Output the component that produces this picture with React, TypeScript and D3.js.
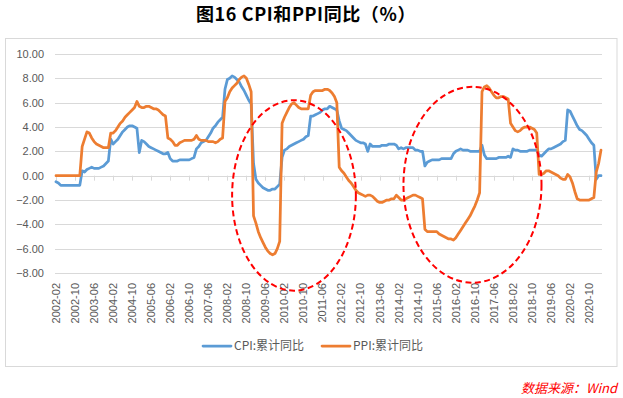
import React from 'react';
import * as d3 from 'd3';

// CPI 累计同比 (%), monthly from 2002-02 to 2021-03
const CPI: number[] = [
  // 2002-02 .. 2002-12
  -0.5, -0.6, -0.8, -0.8, -0.8, -0.8, -0.8, -0.8, -0.8, -0.8, -0.8,
  // 2003
  0.4, 0.3, 0.5, 0.6, 0.7, 0.6, 0.6, 0.6, 0.7, 0.8, 1.0, 1.2,
  // 2004
  3.0, 2.6, 2.8, 3.0, 3.3, 3.6, 3.8, 4.0, 4.1, 4.1, 4.0, 3.9,
  // 2005
  1.9, 2.9, 2.8, 2.6, 2.4, 2.3, 2.2, 2.1, 2.0, 1.9, 1.8, 1.8,
  // 2006
  1.9, 1.4, 1.2, 1.2, 1.2, 1.3, 1.3, 1.3, 1.3, 1.3, 1.4, 1.5,
  // 2007
  2.2, 2.4, 2.7, 2.8, 2.9, 3.2, 3.5, 3.9, 4.1, 4.4, 4.6, 4.8,
  // 2008
  7.1, 7.9, 8.0, 8.2, 8.1, 7.9, 7.7, 7.3, 7.0, 6.6, 6.2, 5.9,
  // 2009
  1.0, -0.3, -0.6, -0.8, -1.0, -1.1, -1.2, -1.2, -1.1, -1.1, -0.9, -0.7,
  // 2010
  1.5, 2.1, 2.2, 2.4, 2.5, 2.6, 2.7, 2.8, 2.9, 3.0, 3.2, 3.3,
  // 2011
  4.9, 4.9, 5.0, 5.1, 5.2, 5.4, 5.5, 5.5, 5.7, 5.6, 5.5, 5.4,
  // 2012
  4.5, 3.9, 3.8, 3.7, 3.5, 3.3, 3.1, 2.9, 2.8, 2.7, 2.7, 2.6,
  // 2013
  2.0, 2.6, 2.4, 2.4, 2.4, 2.4, 2.5, 2.5, 2.5, 2.6, 2.6, 2.6,
  // 2014
  2.5, 2.2, 2.3, 2.2, 2.3, 2.3, 2.3, 2.3, 2.1, 2.1, 2.0, 2.0,
  // 2015
  0.8, 1.1, 1.2, 1.3, 1.3, 1.3, 1.3, 1.4, 1.4, 1.4, 1.4, 1.4,
  // 2016
  1.8, 2.0, 2.1, 2.2, 2.1, 2.1, 2.1, 2.0, 2.0, 2.0, 2.0, 2.0,
  // 2017
  2.5, 1.7, 1.4, 1.4, 1.4, 1.4, 1.4, 1.5, 1.5, 1.5, 1.5, 1.6,
  // 2018
  1.5, 2.2, 2.1, 2.1, 2.0, 2.0, 2.0, 2.0, 2.1, 2.1, 2.1, 2.1,
  // 2019
  1.7, 1.6, 1.8, 2.0, 2.2, 2.2, 2.3, 2.4, 2.5, 2.6, 2.8, 2.9,
  // 2020
  5.4, 5.3, 4.9, 4.5, 4.1, 3.8, 3.7, 3.5, 3.3, 3.0, 2.7, 2.5,
  // 2021-01 .. 2021-03
  -0.3, 0.0, 0.0,
];

// PPI 累计同比 (%), monthly from 2002-02 to 2021-03
const PPI: number[] = [
  // 2002-02 .. 2002-12
  0, 0, 0, 0, 0, 0, 0, 0, 0, 0, 0,
  // 2003
  2.4, 3.0, 3.6, 3.5, 3.1, 2.8, 2.6, 2.5, 2.4, 2.3, 2.3, 2.3,
  // 2004
  3.5, 3.5, 3.7, 4.0, 4.3, 4.5, 4.8, 5.0, 5.2, 5.4, 5.6, 6.1,
  // 2005
  5.7, 5.6, 5.6, 5.7, 5.7, 5.6, 5.5, 5.5, 5.4, 5.2, 5.0, 4.9,
  // 2006
  3.1, 3.0, 2.8, 2.5, 2.5, 2.7, 2.8, 2.9, 2.9, 2.9, 2.9, 3.0,
  // 2007
  3.3, 3.0, 2.9, 2.9, 2.9, 2.8, 2.8, 2.8, 2.7, 2.8, 3.0, 3.1,
  // 2008
  6.1, 6.4, 6.9, 7.2, 7.4, 7.6, 7.9, 8.1, 8.2, 8.0, 7.5, 6.9,
  // 2009
  -3.3, -3.9, -4.6, -5.1, -5.5, -5.9, -6.2, -6.4, -6.5, -6.4, -6.0, -5.4,
  // 2010
  4.3, 4.8, 5.2, 5.6, 5.9, 6.0, 5.8, 5.6, 5.5, 5.5, 5.5, 5.5,
  // 2011
  6.6, 6.9, 7.0, 7.0, 7.0, 7.0, 7.1, 7.1, 7.0, 6.8, 6.5, 6.0,
  // 2012
  0.7, 0.4, 0.2, -0.1, -0.4, -0.6, -0.9, -1.2, -1.4, -1.5, -1.6, -1.7,
  // 2013
  -1.6, -1.6, -1.7, -1.9, -2.1, -2.2, -2.2, -2.1, -2.0, -2.0, -1.9, -1.9,
  // 2014
  -1.6, -1.8, -2.0, -2.0, -1.9, -1.8, -1.7, -1.6, -1.6, -1.7, -1.8, -1.9,
  // 2015
  -4.4, -4.6, -4.6, -4.6, -4.6, -4.6, -4.8, -4.9, -5.0, -5.1, -5.2, -5.2,
  // 2016
  -5.3, -5.1, -4.8, -4.5, -4.2, -3.9, -3.6, -3.3, -2.9, -2.5, -2.0, -1.4,
  // 2017
  6.9, 7.3, 7.4, 7.2, 6.9, 6.6, 6.4, 6.4, 6.5, 6.5, 6.4, 6.3,
  // 2018
  4.3, 4.0, 3.7, 3.6, 3.7, 3.9, 4.0, 4.0, 4.0, 3.9, 3.8, 3.5,
  // 2019
  0.1, 0.1, 0.2, 0.4, 0.4, 0.3, 0.2, 0.1, 0.0, -0.2, -0.3, -0.3,
  // 2020
  0.1, -0.1, -0.6, -1.3, -1.9, -2.0, -2.0, -2.0, -2.0, -2.0, -1.9, -1.8,
  // 2021-01 .. 2021-03
  0.3, 1.0, 2.1,
];

// category labels (YYYY-MM), starting 2002-02
const categories: string[] = CPI.map((_, i) => {
  const k = i + 1;
  const yr = 2002 + Math.floor(k / 12);
  const mo = (k % 12) + 1;
  return `${yr}-${String(mo).padStart(2, '0')}`;
});
const tickEvery = 8;
const tickLabels: string[] = categories.filter((_, i) => i % tickEvery === 0);
const yTicks: number[] = [-8, -6, -4, -2, 0, 2, 4, 6, 8, 10];

const seriesNames = ['CPI:累计同比', 'PPI:累计同比'];
const seriesColors = ['#5B9BD5', '#ED7D31'];

// dashed ellipse annotations (category span and value span)
const annoStart = ['2008-04', '2014-04'];
const annoEnd = ['2012-08', '2019-02'];
const annoTop = [6.2, 7.3];
const annoBottom = [-9.45, -8.8];

const title = '图16 CPI和PPI同比（%）';
const source = '数据来源：Wind';

export default function App() {
  const W = 623;
  const H = 398;
  const x = d3.scalePoint<string>().domain(categories).range([56, 601]);
  const y = d3.scaleLinear().domain([-8, 10]).range([273, 54]);
  const line = d3
    .line<number>()
    .x((_, i) => x(categories[i]) as number)
    .y((d) => y(d));
  const series = [CPI, PPI];
  const gridColor = '#D9D9D9';
  const textColor = '#595959';
  const axisFont = '"Liberation Sans", Arial, sans-serif';
  const cjkFont = '"Noto Sans CJK SC", "Liberation Sans", sans-serif';

  const legendX = [203, 322];

  return (
    <svg
      width={W}
      height={H}
      style={{ position: 'absolute', left: 0, top: 0, background: '#fff' }}
    >
      <rect x={0} y={0} width={W} height={H} fill="#fff" />
      <text
        x={306}
        y={21}
        textAnchor="middle"
        fontFamily={cjkFont}
        fontWeight="bold"
        fontSize={18}
        letterSpacing={0.6}
        fill="#000"
      >
        {title}
      </text>
      <rect x={5.5} y={38.5} width={611.5} height={328} fill="#fff" stroke={gridColor} strokeWidth={1} />

      {/* gridlines */}
      {yTicks.map((t) => (
        <line key={t} x1={55} x2={602} y1={Math.round(y(t)) + 0.5} y2={Math.round(y(t)) + 0.5} stroke={gridColor} strokeWidth={1} />
      ))}
      {/* y labels */}
      {yTicks.map((t) => (
        <text
          key={'l' + t}
          x={44}
          y={y(t)}
          dy="0.35em"
          textAnchor="end"
          fontFamily={axisFont}
          fontSize={11}
          fill={textColor}
        >
          {d3.format('.2f')(t)}
        </text>
      ))}
      {/* category axis ticks at zero */}
      {categories.map((c, i) =>
        i % tickEvery === 0 ? (
          <line
            key={'t' + c}
            x1={Math.round(x(c) as number) + 0.5}
            x2={Math.round(x(c) as number) + 0.5}
            y1={y(0)}
            y2={y(0) + 5}
            stroke={gridColor}
            strokeWidth={1}
          />
        ) : null
      )}
      {/* x labels */}
      {tickLabels.map((c) => (
        <text
          key={'x' + c}
          transform={`translate(${x(c)},283) rotate(-90)`}
          dy="0.35em"
          textAnchor="end"
          fontFamily={axisFont}
          fontSize={11}
          fill={textColor}
        >
          {c}
        </text>
      ))}

      {/* series */}
      {series.map((s, k) => (
        <path
          key={'s' + k}
          d={line(s) || ''}
          fill="none"
          stroke={seriesColors[k]}
          strokeWidth={2.75}
          strokeLinejoin="round"
          strokeLinecap="round"
        />
      ))}

      {/* annotations */}
      {annoStart.map((s, k) => {
        const x0 = x(s) as number;
        const x1 = x(annoEnd[k]) as number;
        const y0 = y(annoTop[k]);
        const y1 = y(annoBottom[k]);
        return (
          <ellipse
            key={'a' + k}
            cx={(x0 + x1) / 2}
            cy={(y0 + y1) / 2}
            rx={(x1 - x0) / 2}
            ry={(y1 - y0) / 2}
            fill="none"
            stroke="#FF0000"
            strokeWidth={2}
            strokeDasharray="6 3.5"
          />
        );
      })}

      {/* legend */}
      {seriesNames.map((n, k) => (
        <g key={'lg' + k}>
          <line x1={legendX[k]} x2={legendX[k] + 28} y1={346} y2={346} stroke={seriesColors[k]} strokeWidth={2.75} strokeLinecap="round" />
          <text x={legendX[k] + 31} y={346} dy="0.35em" fontFamily={cjkFont} fontSize={12} fill={textColor}>
            {n}
          </text>
        </g>
      ))}

      {/* source */}
      <text
        x={617}
        y={393}
        textAnchor="end"
        fontFamily={cjkFont}
        fontStyle="italic"
        fontSize={13}
        fill="#FF0000"
      >
        {source}
      </text>
    </svg>
  );
}
